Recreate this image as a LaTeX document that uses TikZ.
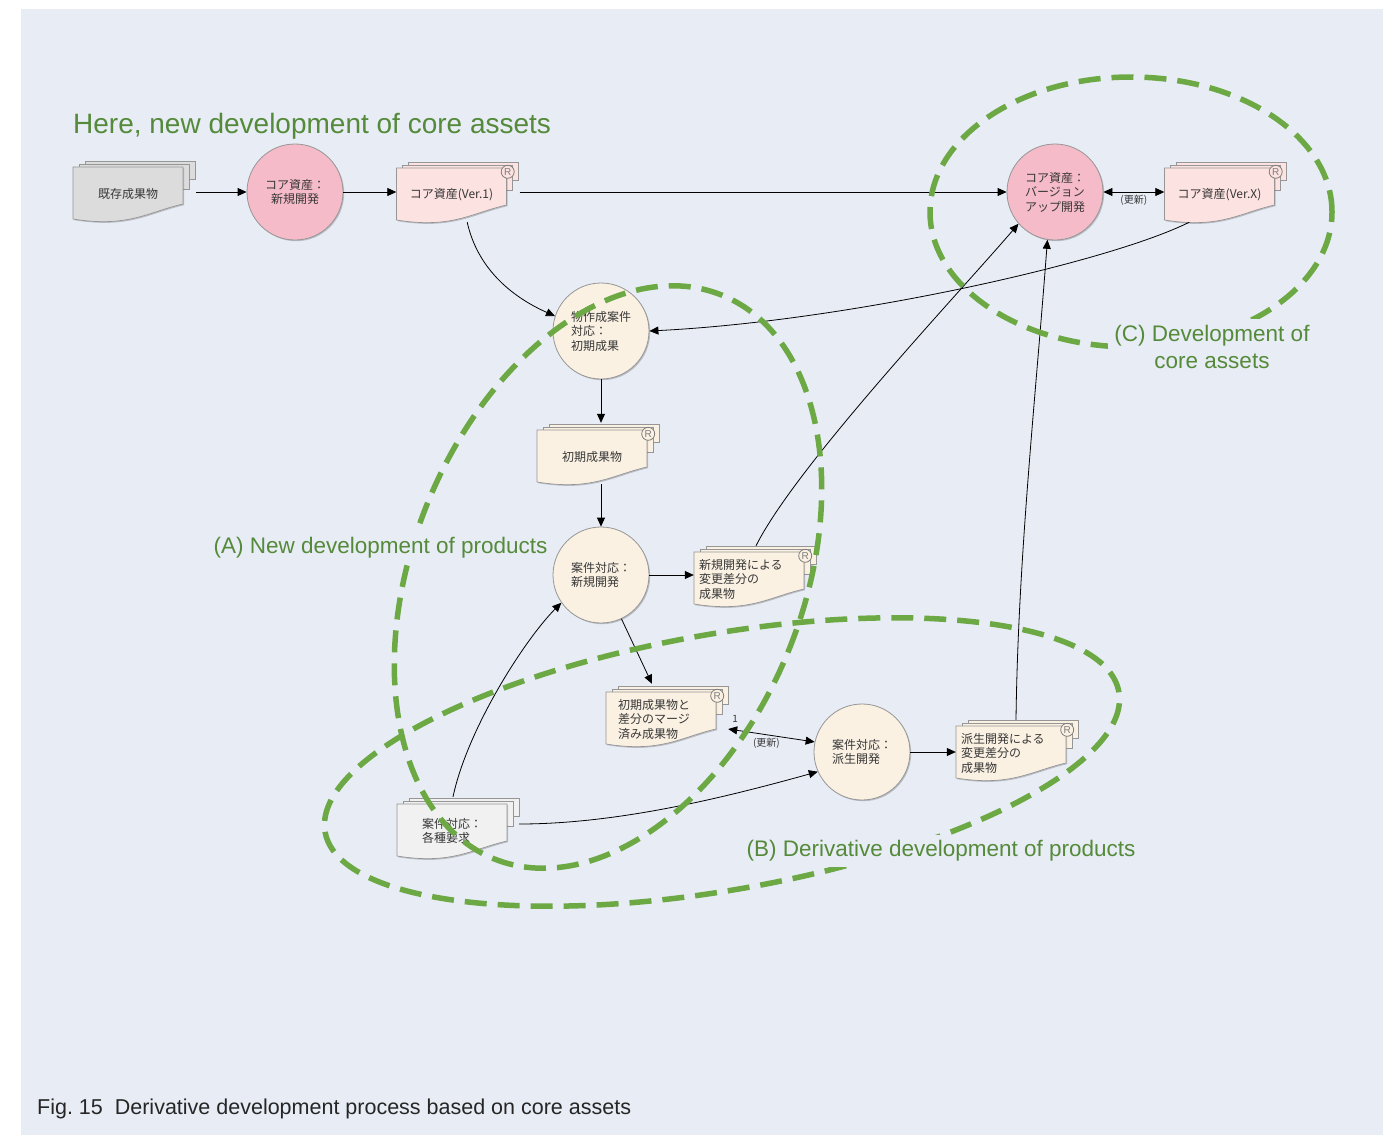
\documentclass[tikz,border=0pt]{standalone}
\usepackage{fontspec}
\setmainfont{Liberation Sans}
\newfontfamily\jpfont{Noto Sans CJK JP}
\usetikzlibrary{arrows.meta,shadows}

\definecolor{panel}{RGB}{232,236,245}
\definecolor{corepink}{RGB}{245,187,201}
\definecolor{docpink}{RGB}{252,226,224}
\definecolor{beige}{RGB}{250,241,227}
\definecolor{olddoc}{RGB}{220,220,220}
\definecolor{reqdoc}{RGB}{241,241,241}
\definecolor{edgegray}{RGB}{150,150,150}
\definecolor{markgray}{RGB}{125,125,125}
\definecolor{ink}{RGB}{55,55,55}
\definecolor{ringgreen}{RGB}{108,168,68}
\definecolor{labelgreen}{RGB}{84,138,58}

% stacked artefact sheets, centred on #1, filled with #2
\newcommand{\docpile}[2]{%
  \begin{scope}[shift={#1}]
    \path[sheet=#2] (-43,-33) rectangle (67,-15);
    \path[sheet=#2] (-49,-30) rectangle (61,-5);
    \path[sheet=#2, soft shadow] (-55,-27) -- (55,-27) -- (55,10)
      .. controls (20,18) and (0,34) .. (-55,25) -- cycle;
  \end{scope}}

\begin{document}
\begin{tikzpicture}[x=1pt, y=-1pt,
    sheet/.style={draw=edgegray, line width=0.7pt, fill=#1},
    soft shadow/.style={drop shadow={shadow xshift=1.2pt, shadow yshift=-1.2pt, opacity=.2, fill=black}},
    flow/.style={draw=black, line width=0.8pt, -{Triangle[length=9pt,width=8pt]}},
    twoway/.style={flow, {Triangle[length=9pt,width=8pt]}-{Triangle[length=9pt,width=8pt]}},
    note/.style={font=\jpfont\fontsize{10}{12}\selectfont, text=ink, inner sep=2pt},
    ring/.style={draw=ringgreen, line width=5.5pt, dash pattern=on 22pt off 11pt},
    tag/.style={fill=panel, inner sep=6pt, align=center, text=labelgreen, font=\fontsize{22.5}{27}\selectfont}]

    \useasboundingbox (0,0) rectangle (1392,1135);
    \fill[panel] (21,9) rectangle (1383,1135);

    % artefact outlines
    \docpile{(128,194)}{olddoc}
    \docpile{(451.5,195)}{docpink}
    \docpile{(1219.5,195)}{docpink}
    \docpile{(592,457)}{beige}
    \docpile{(749,579)}{beige}
    \docpile{(661,719)}{beige}
    \docpile{(1011,753)}{beige}
    \docpile{(452,831)}{reqdoc}

    \begin{scope}[every node/.style={rectangle, minimum width=110pt, minimum height=54pt, inner sep=0pt, align=left, text=ink, font=\jpfont\fontsize{12}{14.5}\selectfont}]
        \node (d0) at (128,194) {既存成果物};
        \node (d1) at (451.5,195) {コア資産(Ver.1)};
        \node (d4) at (1219.5,195) {コア資産(Ver.X)};
        \node (d5) at (592,457) {初期成果物};
        \node[text width=100pt] (d6) at (749,579) {新規開発による\\変更差分の\\成果物};
        \node[text width=86pt] (d7) at (661,719) {初期成果物と\\差分のマージ\\済み成果物};
        \node[text width=100pt] (d8) at (1011,753) {派生開発による\\変更差分の\\成果物};
        \node (d9) at (452,831) {案件対応：\\各種要求};
    \end{scope}

    \begin{scope}[every node/.style={circle, draw=edgegray, line width=0.8pt, minimum size=96pt, inner sep=0pt, align=left, text=ink, font=\jpfont\fontsize{12}{14.5}\selectfont, soft shadow}]
        \node[fill=corepink, align=center] (c1) at (295,192) {コア資産：\\新規開発};
        \node[fill=corepink] (c3) at (1055,192) {コア資産：\\バージョン\\アップ開発};
        \node[fill=beige] (c4) at (601,331) {物作成案件\\対応：\\初期成果};
        \node[fill=beige] (c5) at (601,575) {案件対応：\\新規開発};
        \node[fill=beige] (c6) at (862,752) {案件対応：\\派生開発};
    \end{scope}

    \begin{scope}[every node/.style={circle, draw=markgray, line width=0.8pt, minimum size=13pt, inner sep=0pt, text=markgray, font=\fontsize{10}{10}\selectfont}]
        \node[fill=docpink] (r1) at ([shift={(1,4)}]d1.north east) {R};
        \node[fill=docpink] (r4) at ([shift={(1,4)}]d4.north east) {R};
        \node[fill=beige] (r5) at ([shift={(1,4)}]d5.north east) {R};
        \node[fill=beige] (r6) at ([shift={(1,4)}]d6.north east) {R};
        \node[fill=beige] (r7) at ([shift={(1,4)}]d7.north east) {R};
        \node[fill=beige] (r8) at ([shift={(1,4)}]d8.north east) {R};
    \end{scope}

    % flows
    \draw[flow, shorten <=13pt] (d0.east |- c1) -- (c1.west);
    \draw[flow] (c1.east) -- (c1.east -| d1.west);
    \draw[flow, shorten <=13pt] (d1.east |- c3) -- (c3.west);
    \draw[twoway] (c3.east) -- node[below=1pt, note] (upd1) {(更新)} (c3.east -| d4.west);
    \draw[flow] (d4.222) .. controls +(-80,40) and +(200,-10) .. (c4.east);
    \draw[flow] (d1.300) .. controls +(10,45) and +(-45,-20) .. (c4.162);
    \draw[flow, shorten >=7pt] (c4.south) -- (c4.south |- d5.north);
    \draw[flow] (c5.north |- d5.south) -- (c5.north);
    \draw[flow] (c5.east) -- (c5.east -| d6.west);
    \draw[flow] ([shift={(7,-6)}]d6.north) .. controls +(40,-80) and +(-60,70) .. (c3.221);
    \draw[flow] (c5.295) -- ([shift={(-9,-8)}]d7.north);
    \draw[twoway] ([shift={(12,10)}]d7.east) -- node[pos=.08, above=5pt, note] (one) {1}
        node[midway, below, xshift=-5pt, note] (upd2) {(更新)} (c6.168);
    \draw[flow] (c6.east) -- (c6.east -| d8.west);
    \draw[flow] ([shift={(5,-6)}]d8.north) .. controls +(2,-160) and +(-12,160) .. (c3.261);
    \draw[flow] ([shift={(1,-7)}]d9.north) .. controls +(15,-70) and +(-35,35) .. (c5.215);
    \draw[flow] ([shift={(12,-7)}]d9.east) .. controls +(100,0) and +(-90,25) .. (c6.204);

    % groupings
    \draw[ring, rotate around={-22:(608,577)}] (608,577) ellipse [x radius=195pt, y radius=304pt];
    \draw[ring, rotate around={10:(722,762)}] (722,762) ellipse [x radius=403pt, y radius=128pt];
    \draw[ring] (1131,212) ellipse [x radius=201pt, y radius=135pt];

    \node[anchor=base west, inner sep=0pt, text=labelgreen, font=\fontsize{28}{32}\selectfont] (title) at (73,133) {Here, new development of core assets};
    \node[tag] (tagA) at (380.5,548) {(A) New development of products};
    \node[tag] (tagB) at (941,851) {(B) Derivative development of products};
    \node[tag] (tagC) at (1212,347) {(C) Development of\\core assets};

    \node[anchor=base west, inner sep=0pt, text=black!85, font=\fontsize{21.5}{26}\selectfont] (caption) at (37,1114) {Fig.~15\ \ Derivative development process based on core assets};
\end{tikzpicture}
\end{document}
